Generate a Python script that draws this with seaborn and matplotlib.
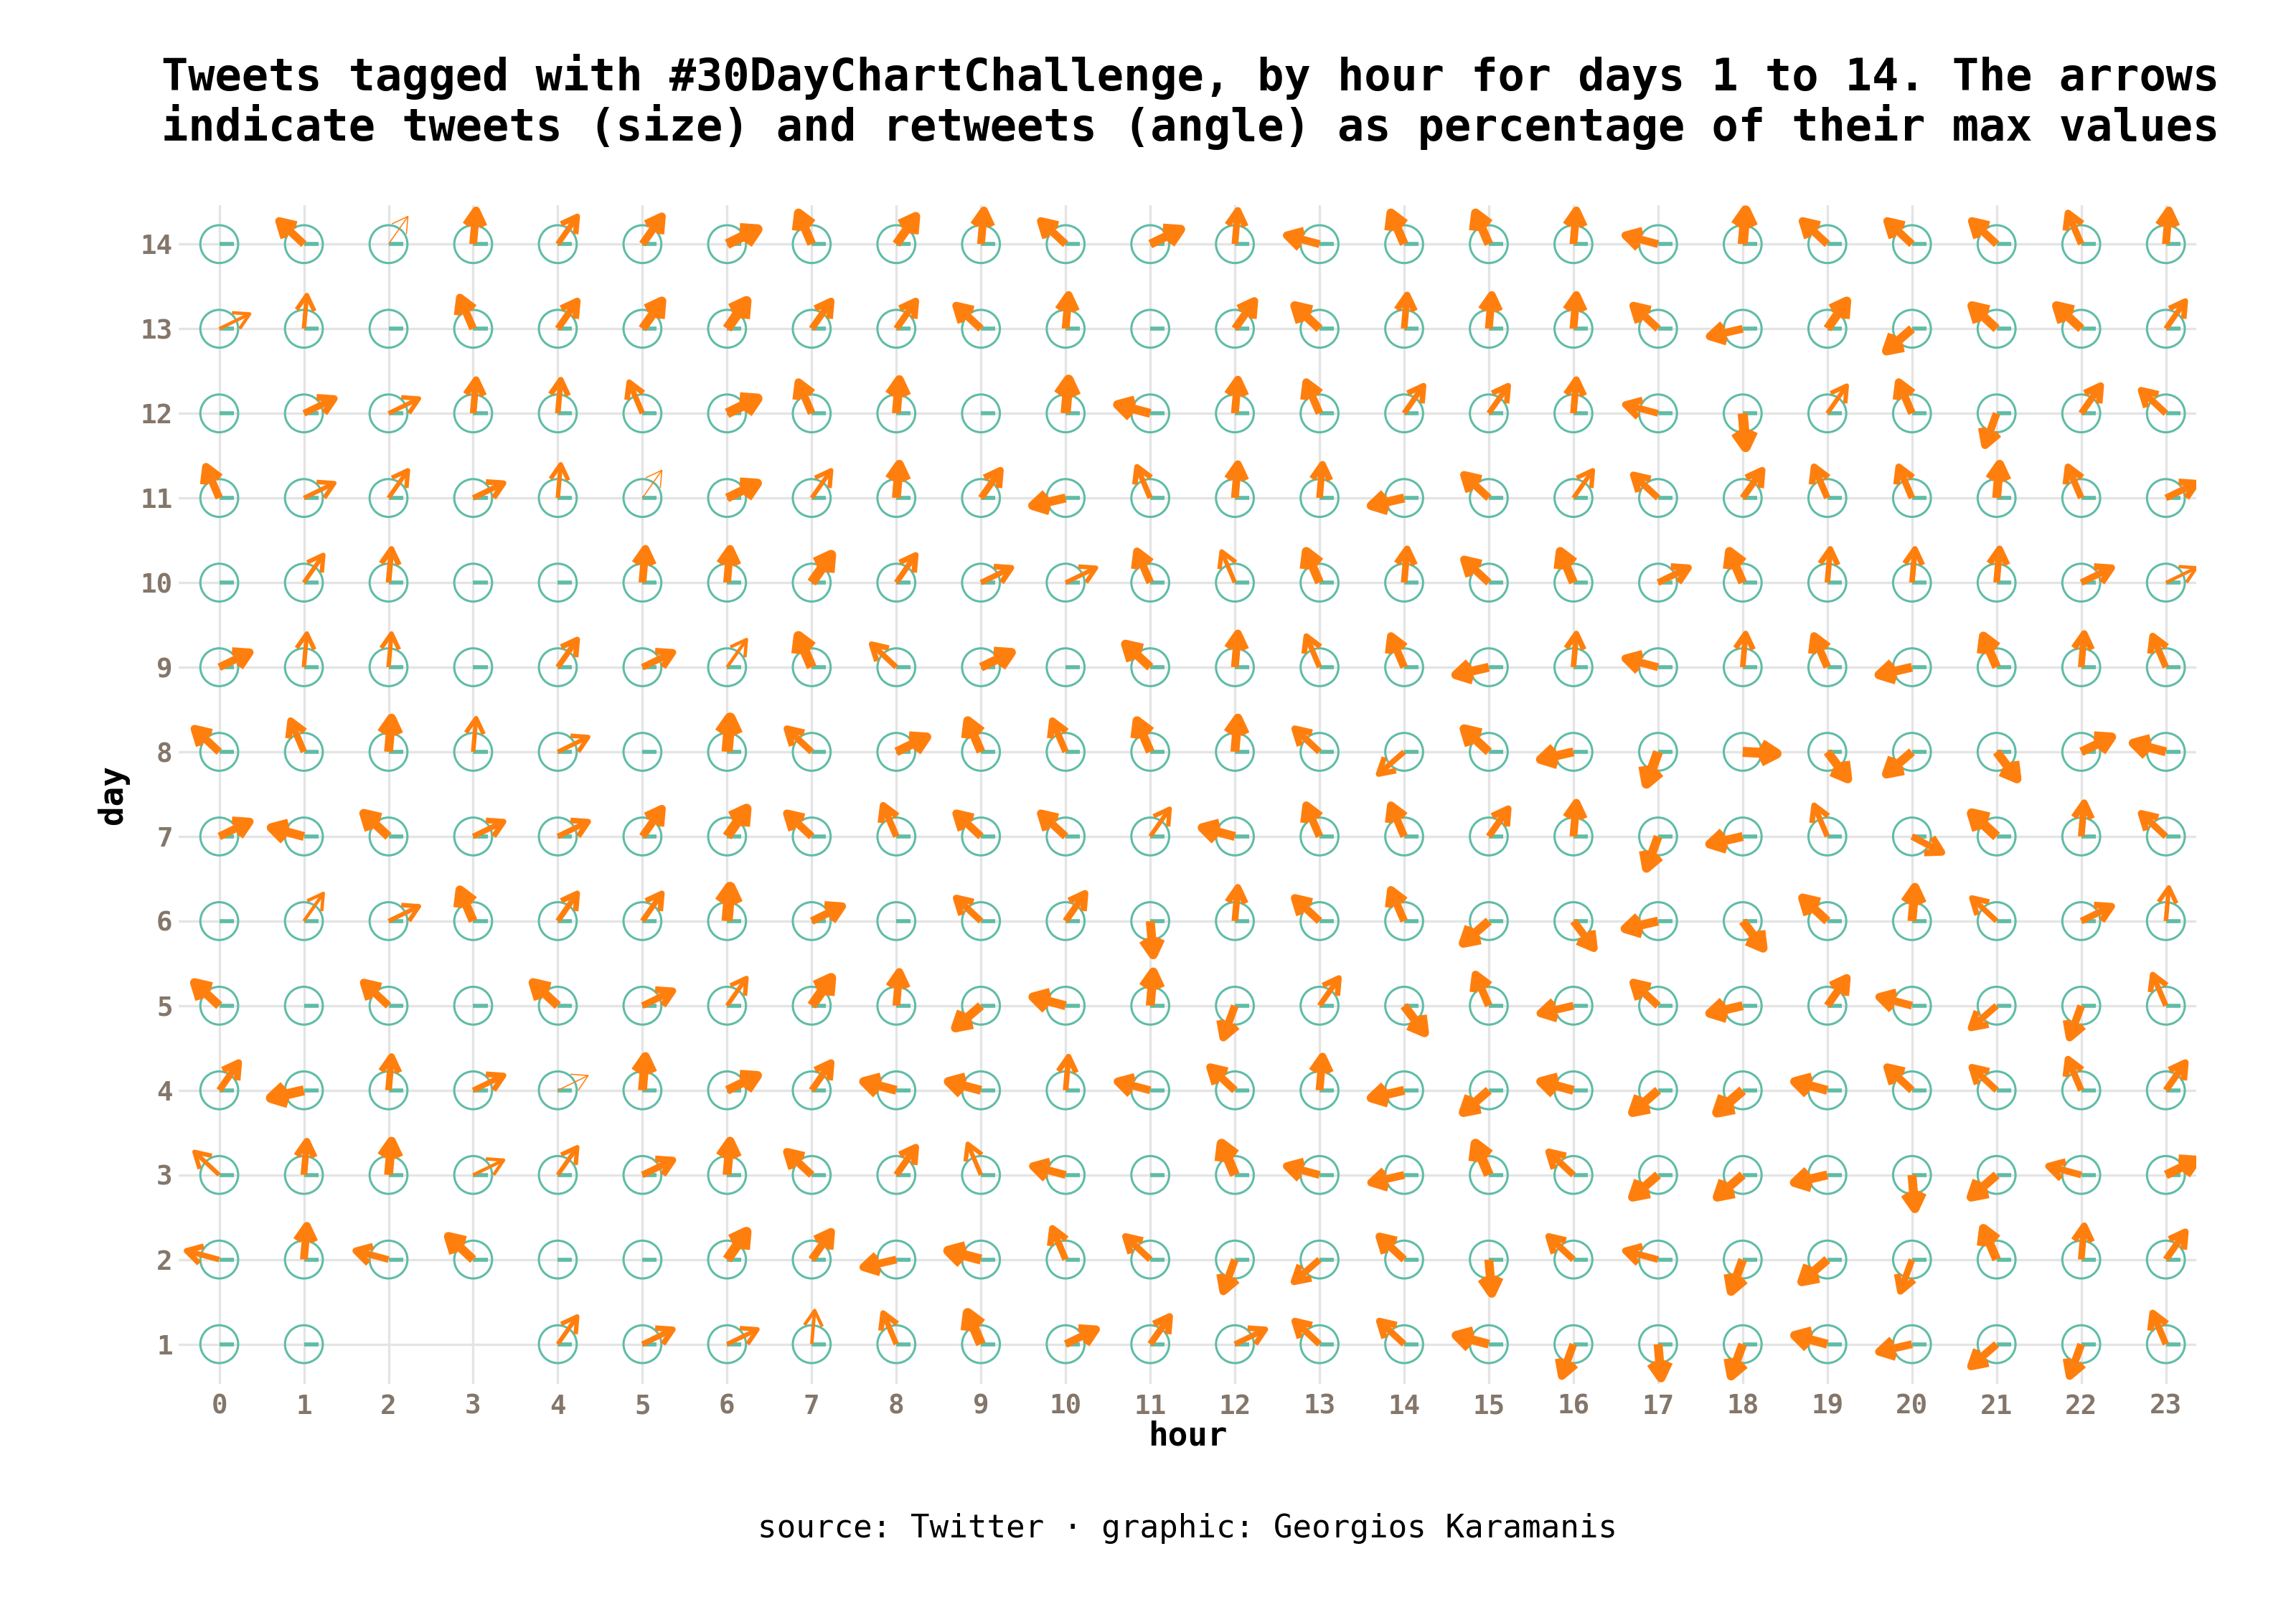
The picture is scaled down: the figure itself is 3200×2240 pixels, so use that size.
import numpy as np
import pandas as pd
import matplotlib
matplotlib.use("Agg")
import matplotlib.pyplot as plt
import seaborn as sns

hours = list(range(24))
days = list(range(14, 0, -1))  # rows below go from day 14 down to day 1

# arrow angle in degrees (retweets as share of max), None = no arrow
rt_angle = [
    [None, 137, 55, 85, 55, 55, 26, 113, 55, 85, 137, 26, 85, 165, 113, 113, 85, 165, 85, 137, 137, 137, 113, 85],
    [26, 85, None, 113, 55, 55, 55, 55, 55, 137, 85, None, 55, 137, 85, 85, 85, 137, 193, 55, 221, 137, 137, 55],
    [None, 26, 26, 85, 85, 113, 26, 113, 85, None, 85, 165, 85, 113, 55, 55, 85, 165, 275, 55, 113, 250, 55, 137],
    [113, 26, 55, 26, 85, 55, 26, 55, 85, 55, 193, 113, 85, 85, 193, 137, 55, 137, 55, 113, 113, 85, 113, 26],
    [None, 55, 85, None, None, 85, 85, 55, 55, 26, 26, 113, 113, 113, 85, 137, 113, 26, 113, 85, 85, 85, 26, 26],
    [26, 85, 85, None, 55, 26, 55, 113, 137, 26, None, 137, 85, 113, 113, 193, 85, 165, 85, 113, 193, 113, 85, 113],
    [137, 113, 85, 85, 26, None, 85, 137, 26, 113, 113, 113, 85, 137, 221, 137, 193, 250, 357, 307, 221, 307, 26, 165],
    [26, 165, 137, 26, 26, 55, 55, 137, 113, 137, 137, 55, 165, 113, 113, 55, 85, 250, 193, 113, 332, 137, 85, 137],
    [None, 55, 26, 113, 55, 55, 85, 26, None, 137, 55, 275, 85, 137, 113, 221, 307, 193, 307, 137, 85, 137, 26, 85],
    [137, None, 137, None, 137, 26, 55, 55, 85, 221, 165, 85, 250, 55, 307, 113, 193, 137, 193, 55, 165, 221, 250, 113],
    [55, 193, 85, 26, 26, 85, 26, 55, 165, 165, 85, 165, 137, 85, 193, 221, 165, 221, 221, 165, 137, 137, 113, 55],
    [137, 85, 85, 26, 55, 26, 85, 137, 55, 113, 165, None, 113, 165, 193, 113, 137, 221, 221, 193, 275, 221, 165, 26],
    [165, 85, 165, 137, None, None, 55, 55, 193, 165, 113, 137, 250, 221, 137, 275, 137, 165, 250, 221, 250, 113, 85, 55],
    [None, None, None, None, 55, 26, 26, 85, 113, 113, 26, 55, 26, 137, 137, 165, 250, 275, 250, 165, 193, 221, 250, 113],
]

# tweets as percentage of max (arrow thickness)
tweet_pct = [
    [None, 70, 10, 70, 50, 70, 90, 80, 80, 70, 70, 80, 60, 70, 80, 80, 70, 70, 90, 70, 70, 70, 60, 70],
    [30, 40, None, 70, 60, 80, 90, 60, 60, 70, 70, None, 70, 80, 60, 70, 70, 70, 70, 80, 80, 80, 80, 50],
    [None, 60, 40, 60, 50, 50, 90, 70, 80, None, 90, 80, 70, 70, 50, 50, 60, 60, 90, 40, 70, 70, 60, 60],
    [70, 40, 40, 50, 40, 10, 80, 40, 80, 60, 80, 50, 70, 60, 80, 70, 40, 60, 60, 60, 60, 80, 60, 60],
    [None, 40, 50, None, None, 70, 70, 90, 50, 50, 40, 70, 40, 80, 60, 70, 80, 60, 80, 50, 50, 60, 60, 30],
    [70, 40, 40, None, 50, 60, 30, 90, 50, 80, None, 80, 70, 50, 70, 80, 50, 70, 50, 70, 80, 80, 60, 60],
    [70, 60, 80, 40, 40, None, 100, 60, 80, 80, 60, 80, 80, 60, 50, 80, 80, 90, 90, 80, 80, 80, 80, 80],
    [70, 80, 80, 50, 50, 70, 90, 70, 60, 70, 70, 40, 80, 70, 70, 60, 70, 80, 80, 50, 60, 90, 60, 60],
    [None, 30, 40, 80, 50, 50, 100, 70, None, 60, 60, 80, 60, 70, 70, 80, 70, 80, 80, 80, 80, 50, 60, 40],
    [80, None, 70, None, 80, 60, 40, 90, 70, 80, 80, 80, 70, 50, 80, 70, 70, 70, 80, 70, 70, 60, 70, 50],
    [60, 90, 60, 50, 10, 80, 80, 60, 80, 80, 50, 70, 70, 70, 80, 80, 80, 80, 90, 80, 70, 60, 60, 60],
    [40, 60, 80, 30, 40, 60, 80, 70, 60, 40, 70, None, 90, 70, 70, 90, 60, 80, 80, 80, 80, 80, 60, 80],
    [50, 70, 60, 80, None, None, 90, 70, 70, 90, 60, 60, 70, 60, 70, 80, 60, 60, 80, 80, 60, 80, 60, 60],
    [None, None, None, None, 40, 50, 40, 30, 50, 90, 70, 60, 50, 60, 60, 80, 70, 80, 80, 80, 70, 70, 70, 60],
]

# hour/day cells with no data at all (no circle)
no_circle = [(2, 1), (3, 1)]

teal = "#5FBCA6"
orange = "#FF7F0E"
tick_col = "#84766A"

rows = []
for i, d in enumerate(days):
    for h in hours:
        rows.append({"hour": h, "day": d, "angle": rt_angle[i][h], "tweets": tweet_pct[i][h]})
df = pd.DataFrame(rows)
df["angle"] = pd.to_numeric(df["angle"])
df["tweets"] = pd.to_numeric(df["tweets"])
circ = df[[(h, d) not in no_circle for h, d in zip(df.hour, df.day)]]
arrows = df.dropna(subset=["angle"])

sns.set_theme(style="white")
plt.rcParams["font.family"] = ["DejaVu Sans Mono"]
plt.rcParams["text.color"] = "black"

fig = plt.figure(figsize=(16, 11.2), dpi=200)
ax = fig.add_axes([0.0778, 0.1388, 0.8788, 0.7335])

sns.scatterplot(data=circ, x="hour", y="day", s=360, marker="o",
                facecolor="none", edgecolor=teal, linewidth=1.1, ax=ax, zorder=2)
ax.hlines(circ["day"], circ["hour"], circ["hour"] + 0.17, color=teal, lw=2.0, zorder=2)

R = 0.4       # spoke length
HEAD = 0.21   # arrow head barb length
for r in arrows.itertuples():
    th = np.deg2rad(r.angle)
    lw = max(r.tweets / 100 * 5.6, 0.5)
    x1 = r.hour + R * np.cos(th)
    y1 = r.day + R * np.sin(th)
    ax.plot([r.hour, x1], [r.day, y1], color=orange, lw=lw,
            solid_capstyle="butt", zorder=3)
    a1 = th + np.pi - np.pi / 6
    a2 = th + np.pi + np.pi / 6
    ax.plot([x1 + HEAD * np.cos(a1), x1, x1 + HEAD * np.cos(a2)],
            [y1 + HEAD * np.sin(a1), y1, y1 + HEAD * np.sin(a2)],
            color=orange, lw=lw, solid_capstyle="butt", solid_joinstyle="round", zorder=3)

ax.set_xlim(-0.48, 23.36)
ax.set_ylim(0.53, 14.46)
ax.set_xticks(hours)
ax.set_yticks(list(range(1, 15)))
ax.grid(True, color="#E4E4E4", lw=1.2)
ax.set_axisbelow(True)
for s in ax.spines.values():
    s.set_visible(False)
ax.tick_params(length=0, labelsize=13.5, labelcolor=tick_col)
ax.tick_params(axis="x", pad=5)
ax.tick_params(axis="y", pad=3)
for lab in ax.get_xticklabels() + ax.get_yticklabels():
    lab.set_fontweight("bold")

ax.set_xlabel("hour", fontsize=16.5, fontweight="bold", color="black")
ax.set_ylabel("day", fontsize=16.5, fontweight="bold", color="black")
ax.xaxis.set_label_coords(0.5, -0.0444)
ax.xaxis.label.set_verticalalignment("center")
ax.yaxis.set_label_coords(-0.0327, 0.5)
ax.yaxis.label.set_verticalalignment("center")
ax.yaxis.label.set_horizontalalignment("center")

fig.text(0.0703, 0.9366,
         "Tweets tagged with #30DayChartChallenge, by hour for days 1 to 14. The arrows\n"
         "indicate tweets (size) and retweets (angle) as percentage of their max values",
         ha="left", va="center", fontsize=22.3, fontweight="bold", linespacing=1.1,
         color="black")
fig.text(0.5172, 0.0487, "source: Twitter \u00b7 graphic: Georgios Karamanis",
         ha="center", va="center", fontsize=15.9, color="black")

fig.savefig("out.png", dpi=200)
